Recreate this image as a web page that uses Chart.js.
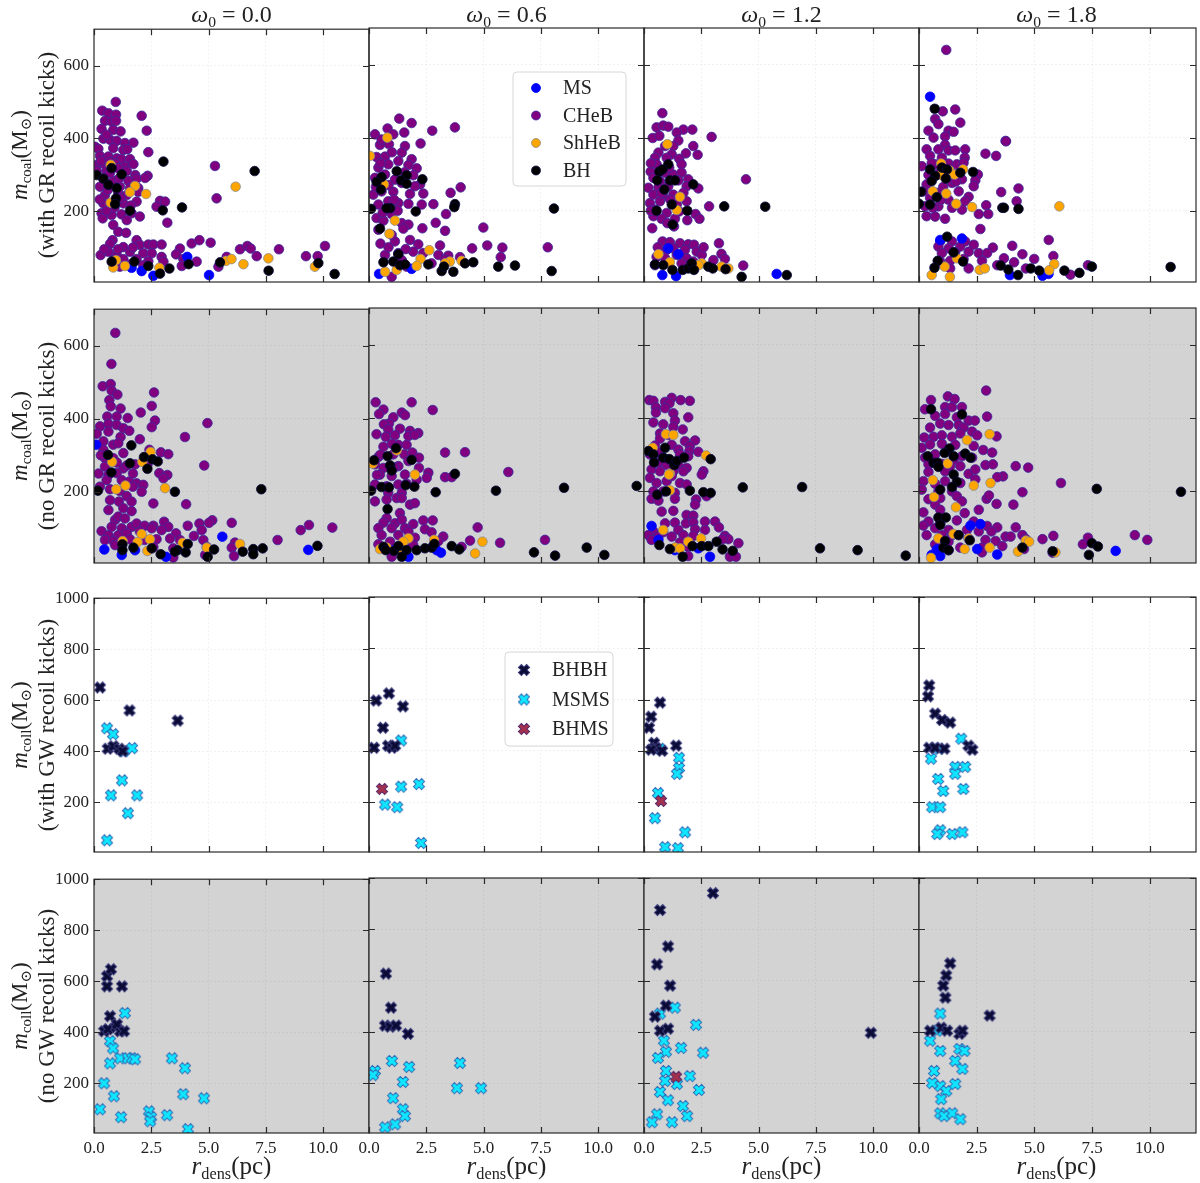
<!DOCTYPE html>
<html>
<head>
<meta charset="utf-8">
<script src="https://cdn.jsdelivr.net/npm/chart.js@4.4.1/dist/chart.umd.min.js"></script>
<style>
  html, body { margin: 0; padding: 0; background: #fff; }
  #page { position: relative; width: 1200px; height: 1183px; overflow: hidden; font-family: 'Liberation Serif', 'DejaVu Serif', serif; color: #222; }
  .panel { position: absolute; }
  .coltitle { position: absolute; top: 0; width: 275px; text-align: center; font-size: 24px; line-height: 28px; }
  .xlabel { position: absolute; top: 1151px; width: 275px; text-align: center; font-size: 25px; line-height: 30px; }
  .ylabel { position: absolute; text-align: center; font-size: 23px; line-height: 27px; white-space: nowrap; transform: rotate(-90deg); transform-origin: center center; }
  sub { font-size: 0.65em; vertical-align: -0.3em; line-height: 0; }
</style>
</head>
<body>
<div id="page"></div>
<script>
// ─── Tick labels / categories ───
const omegaLabels = ['0.0', '0.6', '1.2', '1.8'];
const coalTypes = ['MS', 'CHeB', 'ShHeB', 'BH'];
const collTypes = ['BHBH', 'MSMS', 'BHMS'];
const xTicks = [0, 2.5, 5, 7.5, 10];
const yTicksCoal = [200, 400, 600];
const yTicksColl = [200, 400, 600, 800, 1000];

// ─── Coalescences, with GR recoil kicks: [r_dens, m_coal] ───
const cg0_MS = [[1.64,44],[2.08,35],[2.59,22],[4.07,74],[5.02,24]];
const cg0_CHeB = [[0.95,500],[0.36,476],[0.63,469],[0.96,465],[0.48,448],[0.77,446],[0.96,448],[2.08,462],[0.33,426],[0.84,423],[1.16,419],[2.3,421],[0.41,399],[0.7,396],[0.99,393],[1.35,387],[1.72,388],[0.04,377],[0.19,371],[0.84,373],[1.28,368],[1.45,370],[2.37,362],[0.26,352],[0.63,350],[0.99,345],[1.2,343],[1.57,343],[0.12,327],[0.48,327],[0.92,331],[1.35,322],[1.72,329],[0.12,310],[0.55,310],[1.43,310],[1.8,299],[2.34,297],[0.41,289],[0.84,283],[1.5,283],[1.86,289],[2.23,291],[0.26,267],[1.13,267],[1.57,263],[1.93,263],[0.48,244],[1.06,249],[1.43,244],[1.93,253],[5.28,324],[0.41,221],[1.28,221],[1.86,226],[2.88,228],[3.1,226],[5.35,235],[0.33,194],[0.77,189],[1.2,191],[1.64,194],[2.0,185],[2.73,212],[3.2,168],[0.38,180],[0.84,162],[1.43,175],[1.06,143],[1.4,140],[0.55,410],[0.3,338],[0.7,305],[1.05,318],[0.6,258],[0.25,232],[0.9,210],[1.15,236],[0.55,200],[1.6,215],[0.68,335],[1.1,290],[0.81,120],[0.7,110],[1.28,101],[1.86,120],[2.0,107],[2.37,108],[2.59,108],[2.95,108],[3.75,97],[4.26,111],[4.6,120],[5.09,113],[6.37,95],[6.69,104],[6.84,97],[8.07,95],[10.08,104],[0.29,79],[0.63,88],[0.99,79],[1.57,88],[2.15,84],[2.52,84],[2.95,74],[3.58,81],[3.9,68],[5.79,74],[7.1,76],[9.25,76],[9.76,76],[0.84,65],[1.28,68],[1.86,68],[2.37,62],[3.03,61],[3.83,49],[4.48,61],[5.43,47],[1.13,47],[2.15,51],[1.57,53],[1.05,95],[1.7,100],[0.45,95]];
const cg0_ShHeB = [[0.73,327],[1.79,269],[1.57,252],[2.27,247],[0.73,223],[6.18,267],[0.84,45],[1.35,49],[0.96,65],[2.85,44],[5.76,63],[6.0,68],[6.52,54],[7.61,70],[9.64,47]];
const cg0_BH = [[0.12,299],[0.41,289],[0.77,318],[0.63,272],[1.21,301],[0.99,263],[0.96,235],[0.92,219],[1.57,201],[3.03,336],[3.0,202],[3.84,210],[7.01,310],[0.77,61],[1.76,61],[2.37,49],[2.88,28],[3.29,42],[4.13,54],[5.5,59],[7.62,36],[9.79,57],[10.5,27]];

const cg1_MS = [[0.44,27],[1.86,41]];
const cg1_CHeB = [[1.32,452],[1.86,440],[0.81,425],[1.54,414],[2.76,419],[3.75,428],[0.26,409],[0.48,380],[1.06,409],[1.57,377],[2.25,384],[0.87,382],[0.33,347],[0.7,348],[1.43,359],[1.86,341],[0.41,318],[0.84,327],[1.28,336],[1.72,325],[2.08,316],[0.26,290],[0.7,299],[1.13,285],[1.93,297],[2.23,272],[1.43,276],[0.19,244],[0.55,253],[1.06,252],[1.79,246],[2.37,247],[3.56,249],[4.0,264],[2.0,267],[0.41,217],[0.84,226],[1.28,221],[1.72,219],[2.3,217],[2.81,218],[3.36,191],[0.33,180],[0.63,173],[0.99,191],[1.43,166],[1.72,162],[2.91,167],[2.33,152],[3.32,145],[0.41,148],[1.5,151],[1.13,116],[4.99,154],[0.99,134],[1.79,120],[2.15,108],[3.1,105],[5.16,105],[5.82,99],[7.8,100],[4.5,97],[0.7,79],[1.28,84],[1.93,88],[2.37,84],[3.03,79],[3.46,77],[3.97,73],[5.75,73],[0.99,19],[1.43,65],[1.64,47],[2.73,56],[3.32,65],[0.55,395],[1.0,360],[0.5,330],[1.55,305],[0.85,270],[0.3,265],[1.1,230],[0.6,195],[1.25,200],[0.85,100],[0.5,110],[1.6,95]];
const cg1_ShHeB = [[0.8,400],[0.04,350],[0.65,272],[1.13,173],[0.89,137],[2.63,92],[2.25,68],[2.08,49],[3.53,61],[4.04,63],[0.7,33],[1.21,38],[3.32,56]];
const cg1_BH = [[1.21,308],[1.64,297],[0.55,292],[0.33,279],[1.4,283],[1.64,274],[2.33,286],[0.52,258],[0.92,207],[0.77,207],[0.09,205],[2.04,198],[3.75,218],[3.72,210],[8.07,206],[0.48,151],[0.63,59],[1.06,61],[1.28,81],[1.35,51],[1.57,53],[2.59,53],[3.17,35],[3.27,47],[3.68,33],[4.19,56],[4.55,59],[5.64,47],[6.37,50],[7.97,35]];

const cg2_MS = [[0.8,24],[1.4,21],[1.06,97],[1.5,81],[5.79,27]];
const cg2_CHeB = [[0.8,467],[0.55,428],[0.84,433],[1.06,430],[1.72,422],[2.11,422],[0.38,399],[0.67,405],[1.43,414],[2.95,402],[1.5,392],[0.92,377],[1.28,377],[2.15,377],[0.63,359],[1.21,354],[1.83,357],[2.34,353],[0.48,345],[0.99,345],[1.54,342],[0.55,327],[1.64,327],[0.29,307],[0.92,304],[1.28,299],[1.64,304],[0.41,290],[0.7,281],[1.5,283],[1.93,286],[4.45,286],[0.19,263],[0.63,264],[1.06,267],[1.86,267],[2.37,261],[0.41,244],[0.84,240],[1.28,244],[1.72,249],[0.26,221],[0.7,226],[1.43,217],[1.86,226],[0.48,203],[0.99,194],[1.54,198],[2.84,212],[0.41,185],[0.77,178],[1.35,178],[2.25,191],[2.42,178],[1.02,166],[1.31,157],[0.36,152],[1.89,174],[0.3,330],[1.1,318],[0.75,248],[1.15,230],[0.3,200],[0.81,116],[1.13,114],[1.57,111],[1.93,108],[2.18,107],[0.99,93],[1.28,97],[1.79,93],[2.3,88],[3.27,111],[3.38,82],[0.55,74],[0.92,70],[1.43,79],[1.86,70],[2.52,79],[3.53,68],[0.48,51],[1.64,56],[2.15,61],[4.33,50],[3.03,65],[0.6,100],[2.6,100]];
const cg2_ShHeB = [[1.02,382],[1.57,238],[1.43,202],[0.63,81],[1.13,59],[2.52,56],[2.37,51],[3.38,47],[3.68,42]];
const cg2_BH = [[1.06,327],[0.67,307],[0.81,313],[0.58,283],[1.13,283],[1.35,283],[0.89,258],[2.15,272],[1.21,217],[0.55,200],[1.89,200],[3.5,212],[5.29,211],[1.25,162],[0.48,53],[0.84,51],[1.24,38],[1.69,38],[1.93,42],[2.08,56],[2.18,38],[2.81,47],[3.0,42],[3.56,40],[4.26,19],[6.23,24]];

const cg3_MS = [[0.48,512],[0.92,120],[1.86,124],[3.94,24],[5.35,22],[5.61,27]];
const cg3_CHeB = [[1.18,640],[1.57,477],[1.03,472],[0.7,451],[0.84,437],[1.79,441],[0.41,419],[1.28,419],[1.5,416],[1.13,403],[0.63,400],[3.75,391],[3.77,390],[1.13,380],[0.33,368],[0.84,368],[1.28,365],[1.57,365],[2.0,368],[2.88,356],[3.34,350],[0.48,350],[0.99,345],[1.98,345],[0.12,322],[0.7,327],[1.28,329],[1.64,327],[1.93,331],[0.41,298],[0.84,301],[1.45,304],[2.55,299],[1.86,286],[2.44,283],[0.33,272],[1.43,276],[2.37,267],[4.31,261],[0.19,253],[0.77,249],[1.72,253],[2.15,238],[3.56,251],[0.48,235],[1.28,230],[2.0,226],[4.23,226],[0.26,212],[0.84,212],[1.43,208],[2.91,215],[1.86,203],[0.33,185],[0.7,184],[1.13,178],[2.59,191],[3.0,191],[2.66,150],[0.55,330],[1.05,265],[0.95,230],[0.6,208],[1.6,280],[0.92,116],[1.43,116],[2.0,116],[0.84,102],[1.28,97],[1.79,102],[2.37,107],[3.2,99],[4.04,104],[5.62,120],[0.99,84],[1.57,87],[2.15,88],[2.59,84],[2.95,84],[3.68,70],[4.48,81],[4.99,68],[5.82,76],[0.92,61],[1.35,63],[1.93,68],[2.73,63],[3.39,51],[4.12,59],[1.35,42],[2.15,42],[4.63,42],[6.56,25],[7.32,51]];
const cg3_ShHeB = [[0.96,329],[1.32,310],[1.54,299],[0.96,298],[1.91,313],[0.6,253],[1.18,247],[1.61,219],[2.3,210],[6.08,212],[1.64,70],[1.11,47],[2.63,38],[2.85,42],[5.86,54],[5.64,37],[0.55,24],[1.34,19]];
const cg3_BH = [[0.68,479],[0.48,313],[0.99,318],[1.21,313],[1.79,304],[0.7,295],[1.16,288],[2.34,306],[0.55,281],[0.09,252],[0.77,237],[0.48,217],[3.61,208],[3.68,208],[4.31,205],[0.0,219],[1.22,129],[1.5,86],[0.81,63],[1.91,61],[0.67,44],[3.54,50],[3.87,39],[4.29,24],[4.84,42],[5.21,36],[6.3,36],[6.95,30],[7.49,47],[10.9,46]];

// ─── Coalescences, no GR recoil kicks ───
const cn0_MS = [[0.09,329],[0.45,42],[1.21,27],[1.79,40],[3.14,22],[5.6,77],[9.35,41]];
const cn0_CHeB = [[0.93,635],[0.76,550],[0.38,489],[0.73,495],[0.77,477],[1.02,466],[2.62,472],[0.67,451],[0.73,434],[1.16,428],[2.52,435],[0.58,406],[0.99,406],[1.47,402],[2.04,417],[2.66,395],[0.26,379],[0.63,386],[0.99,383],[1.28,374],[1.54,367],[2.52,377],[4.95,388],[0.12,359],[0.63,365],[1.16,350],[2.0,344],[3.97,350],[0.41,338],[0.84,329],[1.06,333],[0.41,315],[1.28,306],[2.42,315],[2.92,308],[3.24,303],[0.48,292],[0.84,292],[1.79,275],[0.48,269],[1.28,264],[1.43,272],[2.33,274],[4.81,272],[0.63,246],[0.99,251],[2.85,251],[3.2,246],[0.55,232],[1.21,232],[1.54,228],[1.86,223],[3.03,237],[2.15,219],[0.26,214],[0.7,207],[1.13,202],[1.69,214],[2.08,200],[1.43,188],[0.7,177],[1.09,173],[1.64,173],[2.59,168],[4.02,166],[0.63,150],[1.28,155],[1.64,147],[0.92,123],[1.06,132],[1.35,127],[0.3,300],[1.0,280],[0.2,250],[1.7,250],[0.77,104],[1.21,100],[1.64,104],[1.86,113],[2.21,107],[2.59,107],[3.06,118],[3.24,104],[4.09,107],[4.6,113],[5.16,122],[5.02,115],[6.01,115],[9.02,95],[9.38,109],[10.4,102],[0.33,92],[0.63,81],[1.06,81],[1.43,86],[2.0,91],[2.52,100],[2.95,95],[3.58,86],[4.36,79],[4.7,95],[0.48,68],[0.84,65],[1.57,70],[2.21,68],[2.73,70],[3.32,72],[3.75,68],[4.77,68],[6.15,61],[8.01,68],[0.92,54],[2.59,49],[3.46,45],[4.92,49],[6.01,47],[6.11,24],[4.85,27],[3.46,20]];
const cn0_ShHeB = [[0.79,282],[2.11,282],[2.47,309],[1.37,217],[0.97,207],[3.1,210],[2.08,84],[1.9,62],[2.44,70],[1.25,65],[2.33,38],[3.87,60],[4.92,47],[6.37,57]];
const cn0_BH = [[1.63,327],[0.61,301],[2.18,295],[2.55,289],[1.57,278],[2.78,283],[2.33,263],[0.76,253],[0.17,203],[3.53,200],[7.3,207],[1.24,56],[1.24,40],[1.72,47],[2.52,45],[2.91,29],[3.64,40],[4.0,34],[4.09,57],[4.96,22],[5.24,42],[6.49,36],[6.95,43],[6.95,29],[7.36,45],[9.75,52],[3.53,36]];

const cn1_MS = [[1.72,22],[3.14,33],[2.95,40],[1.06,40]];
const cn1_CHeB = [[0.29,443],[1.86,443],[0.63,423],[0.44,411],[1.43,415],[1.57,408],[2.78,422],[1.06,402],[0.87,385],[0.65,383],[0.84,369],[1.35,371],[1.79,365],[0.33,356],[0.73,349],[1.13,353],[1.72,351],[2.15,359],[2.0,354],[0.63,322],[1.28,327],[1.64,327],[0.41,294],[1.06,301],[1.54,301],[1.89,306],[2.18,292],[3.32,306],[4.19,307],[0.26,274],[0.63,264],[1.28,269],[1.72,283],[2.18,264],[6.08,253],[0.48,246],[0.99,242],[1.57,246],[2.59,251],[2.52,237],[3.32,239],[3.61,239],[2.08,232],[0.26,219],[0.77,214],[1.28,219],[1.64,221],[0.84,196],[1.43,196],[0.26,173],[0.77,178],[1.21,182],[1.43,182],[1.79,164],[2.0,168],[1.35,141],[0.77,127],[0.63,115],[0.5,300],[1.0,330],[0.35,245],[1.1,265],[1.13,113],[1.43,123],[1.93,111],[2.37,121],[2.78,121],[0.41,100],[0.99,100],[1.57,100],[2.44,97],[2.73,89],[4.74,102],[0.55,81],[1.28,81],[1.72,91],[2.0,74],[3.24,77],[4.41,66],[5.72,60],[7.68,68],[0.41,56],[0.92,63],[1.57,49],[1.93,54],[3.03,65],[4.04,49],[0.99,22]];
const cn1_ShHeB = [[1.21,312],[0.16,276],[2.0,246],[1.72,72],[1.5,63],[2.84,68],[4.95,63],[4.63,31],[0.48,43],[1.4,40],[0.77,47]];
const cn1_BH = [[1.18,318],[0.81,296],[0.22,285],[1.86,286],[0.92,271],[0.99,257],[3.75,248],[1.98,213],[1.6,217],[0.55,212],[0.87,211],[0.09,202],[2.91,198],[5.54,202],[8.51,210],[11.68,215],[0.81,152],[0.63,49],[0.73,40],[1.09,38],[1.28,51],[1.64,40],[2.08,40],[2.44,45],[2.73,47],[2.85,57],[1.43,22],[3.61,51],[3.94,42],[7.2,34],[8.12,25],[9.5,47],[10.27,27]];

const cn2_MS = [[0.33,106],[0.63,68],[1.35,40],[2.37,45],[2.88,22]];
const cn2_CHeB = [[0.23,449],[0.41,447],[0.92,444],[1.21,455],[1.11,440],[1.6,449],[2.0,447],[0.52,429],[0.92,427],[0.52,415],[1.28,413],[1.93,402],[0.41,388],[0.84,383],[1.35,393],[1.28,376],[1.69,369],[0.7,358],[1.06,354],[2.23,339],[0.7,344],[1.79,337],[0.48,325],[1.21,327],[1.5,314],[2.0,323],[1.98,310],[2.37,308],[0.26,301],[0.63,306],[0.84,292],[1.57,301],[1.93,296],[0.63,278],[0.99,272],[1.5,272],[1.86,264],[0.33,260],[0.7,255],[1.28,255],[1.72,255],[2.59,255],[2.52,246],[0.26,237],[0.55,223],[0.99,228],[1.21,242],[1.57,223],[1.86,219],[0.41,200],[0.84,200],[1.35,196],[1.35,180],[2.27,178],[0.33,180],[0.63,175],[2.23,164],[2.73,187],[0.77,145],[1.28,147],[1.86,136],[2.15,134],[0.92,113],[1.35,115],[1.83,113],[2.15,116],[2.66,118],[3.1,118],[3.27,102],[0.41,91],[0.84,89],[1.5,95],[2.23,97],[2.66,95],[0.19,81],[0.63,77],[1.21,77],[1.72,81],[2.15,79],[3.53,79],[0.33,68],[1.57,61],[1.93,49],[3.68,70],[3.43,70],[4.12,59],[1.93,24],[3.75,22],[4.01,22]];
const cn2_ShHeB = [[0.96,356],[1.28,354],[0.38,319],[1.13,249],[1.09,246],[2.71,298],[1.13,203],[0.84,95],[1.93,63],[2.49,72],[1.35,47],[1.57,45]];
const cn2_BH = [[0.92,319],[0.19,310],[0.41,301],[0.84,292],[1.11,288],[0.44,279],[1.32,272],[1.43,283],[1.75,292],[2.91,288],[0.58,191],[0.96,200],[2.0,202],[2.59,198],[2.91,196],[4.31,211],[6.9,212],[0.67,54],[1.13,43],[1.69,22],[2.12,51],[2.52,51],[2.81,51],[3.17,63],[3.43,42],[3.87,38],[7.68,45],[9.32,40],[11.42,25]];

const cn3_MS = [[0.55,27],[0.92,24],[0.77,42],[2.15,72],[2.66,111],[2.52,43],[3.39,28],[8.52,38],[2.23,107]];
const cn3_CHeB = [[2.91,475],[1.25,459],[1.54,452],[0.52,449],[0.26,424],[1.13,430],[1.43,430],[1.86,430],[2.95,404],[0.7,406],[1.13,411],[1.64,402],[2.15,393],[2.42,393],[0.48,374],[0.92,385],[1.28,381],[1.72,381],[1.93,374],[3.36,350],[0.23,347],[0.63,349],[0.99,353],[1.43,349],[1.79,358],[2.3,363],[2.52,353],[0.12,319],[0.48,328],[0.99,330],[1.57,327],[2.37,324],[2.78,313],[3.17,306],[0.26,292],[0.7,301],[1.86,296],[2.3,292],[1.5,285],[0.41,274],[0.99,275],[1.35,269],[1.79,269],[2.88,272],[3.2,274],[4.19,269],[4.73,265],[0.41,253],[1.13,255],[2.15,248],[2.44,260],[3.64,241],[3.39,239],[6.15,223],[0.19,228],[0.7,221],[1.13,228],[1.79,223],[2.44,233],[0.12,205],[0.84,200],[1.43,200],[1.64,187],[0.41,179],[0.92,182],[2.93,180],[3.03,189],[4.48,198],[0.7,164],[1.86,173],[3.36,166],[4.09,164],[0.92,150],[1.98,141],[0.19,143],[2.59,150],[0.41,118],[0.92,113],[1.64,121],[2.37,118],[2.95,106],[3.39,102],[4.19,102],[0.19,107],[0.7,100],[1.28,95],[2.08,95],[2.59,91],[3.14,91],[3.75,77],[4.48,81],[5.35,70],[5.82,79],[7.32,74],[9.35,81],[9.89,68],[0.33,81],[0.99,81],[1.43,81],[2.88,68],[3.32,65],[3.97,77],[4.63,70],[7.1,56],[0.7,56],[1.28,63],[1.79,47],[2.73,47],[3.61,51],[2.73,34],[5.79,33],[4.55,43],[1.28,40]];
const cn3_ShHeB = [[2.08,340],[3.06,356],[1.24,276],[0.6,231],[2.37,216],[3.1,223],[0.65,185],[1.6,157],[1.5,84],[0.84,72],[2.15,72],[1.98,43],[3.06,47],[4.29,36],[4.63,66],[4.77,63],[5.91,34],[0.52,19]];
const cn3_BH = [[0.52,424],[1.86,410],[1.32,317],[0.38,296],[1.11,305],[1.5,296],[2.0,303],[2.23,292],[0.63,278],[0.81,278],[0.84,267],[1.5,246],[1.64,226],[1.43,212],[0.92,205],[7.7,207],[11.35,199],[0.84,129],[1.16,129],[0.92,109],[1.13,65],[1.06,47],[1.28,40],[1.72,81],[2.2,67],[4.48,47],[5.79,37],[7.49,59],[7.75,50],[7.36,27]];

// ─── Collisions, with GW recoil kicks: [r_dens, m_coll] ───
const xg0_BHBH = [[0.26,650],[0.6,410],[0.85,420],[1.1,410],[1.25,400],[1.55,560],[3.65,520]];
const xg0_MSMS = [[0.57,490],[0.83,467],[0.74,227],[0.57,51],[1.31,400],[1.66,412],[1.22,286],[1.88,227],[1.48,157]];
const xg0_BHMS = [];
const xg1_BHBH = [[0.31,596],[0.87,624],[0.61,490],[0.22,412],[0.83,420],[1.0,412],[1.14,420],[1.48,573]];
const xg1_MSMS = [[1.4,440],[1.4,260],[1.23,180],[0.7,190],[2.18,270],[2.27,40]];
const xg1_BHMS = [[0.57,251]];
const xg2_BHBH = [[0.31,533],[0.22,490],[0.7,588],[0.44,431],[0.52,412],[0.31,404],[1.4,420],[0.79,400]];
const xg2_MSMS = [[0.7,408],[1.53,373],[1.53,333],[1.44,310],[0.61,235],[0.48,137],[1.79,82],[0.92,24],[1.48,20]];
const xg2_BHMS = [[0.74,204]];
const xg3_BHBH = [[0.44,655],[0.39,612],[0.7,545],[1.0,520],[1.35,510],[0.44,412],[0.7,412],[1.1,408],[2.14,420],[2.31,404]];
const xg3_MSMS = [[0.52,369],[0.87,408],[0.83,290],[1.05,243],[0.57,180],[0.92,180],[0.92,90],[1.57,337],[1.57,310],[2.0,337],[1.92,251],[1.88,82],[1.44,75],[0.79,75],[1.83,447]];
const xg3_BHMS = [];

// ─── Collisions, no GW recoil kicks ───
const xn0_BHBH = [[0.57,620],[0.74,647],[0.57,580],[1.22,580],[0.44,404],[0.61,412],[0.96,420],[1.14,404],[0.7,463],[1.0,431],[1.31,404]];
const xn0_MSMS = [[0.7,365],[0.83,337],[1.35,475],[1.14,298],[1.48,298],[1.66,298],[1.79,294],[0.7,278],[0.44,200],[0.87,149],[0.26,98],[1.18,67],[2.4,90],[2.49,67],[2.45,51],[3.19,75],[3.4,298],[3.97,259],[3.89,157],[4.8,141],[4.1,20]];
const xn0_BHMS = [];
const xn1_BHBH = [[0.74,627],[0.96,494],[0.7,424],[0.92,420],[1.18,424],[1.7,392]];
const xn1_MSMS = [[0.26,247],[0.17,231],[1.0,286],[1.75,263],[1.48,204],[1.05,141],[1.48,98],[1.57,71],[1.14,39],[0.7,27],[3.84,180],[3.97,278],[4.89,180]];
const xn1_BHMS = [];
const xn2_BHBH = [[3.01,941],[0.7,875],[1.05,733],[0.57,663],[1.14,580],[0.96,502],[0.48,459],[0.7,404],[1.05,412],[9.9,396]];
const xn2_MSMS = [[0.7,471],[1.35,494],[0.87,365],[0.96,322],[2.27,427],[2.58,318],[1.62,337],[0.61,298],[0.96,247],[0.92,208],[0.7,165],[1.44,196],[2.0,227],[1.05,133],[1.7,110],[1.88,71],[0.57,78],[1.22,47],[2.4,173],[0.35,47]];
const xn2_BHMS = [[1.4,224]];
const xn3_BHBH = [[1.35,667],[1.18,620],[1.05,580],[1.14,533],[3.06,463],[0.48,404],[0.96,416],[1.22,404],[1.75,392],[1.88,404]];
const xn3_MSMS = [[0.48,365],[0.92,325],[0.92,471],[0.79,404],[1.75,333],[1.57,286],[1.88,255],[0.65,247],[0.92,188],[0.57,200],[1.18,169],[1.57,196],[0.92,82],[1.09,71],[1.44,82],[1.79,59],[0.96,137],[1.97,325]];
const xn3_BHMS = [];

const coalGR = [[cg0_MS, cg0_CHeB, cg0_ShHeB, cg0_BH], [cg1_MS, cg1_CHeB, cg1_ShHeB, cg1_BH], [cg2_MS, cg2_CHeB, cg2_ShHeB, cg2_BH], [cg3_MS, cg3_CHeB, cg3_ShHeB, cg3_BH]];
const coalNoGR = [[cn0_MS, cn0_CHeB, cn0_ShHeB, cn0_BH], [cn1_MS, cn1_CHeB, cn1_ShHeB, cn1_BH], [cn2_MS, cn2_CHeB, cn2_ShHeB, cn2_BH], [cn3_MS, cn3_CHeB, cn3_ShHeB, cn3_BH]];
const collGW = [[xg0_BHBH, xg0_MSMS, xg0_BHMS], [xg1_BHBH, xg1_MSMS, xg1_BHMS], [xg2_BHBH, xg2_MSMS, xg2_BHMS], [xg3_BHBH, xg3_MSMS, xg3_BHMS]];
const collNoGW = [[xn0_BHBH, xn0_MSMS, xn0_BHMS], [xn1_BHBH, xn1_MSMS, xn1_BHMS], [xn2_BHBH, xn2_MSMS, xn2_BHMS], [xn3_BHBH, xn3_MSMS, xn3_BHMS]];

// ─── Layout ───
const COL_X = [94, 369, 644, 919];
const COL_W = [275, 275, 275, 277];
const ROW_Y = [28, 308, 597, 878];
const ROW_H = [254, 255, 255, 255];
const PAD = { l: 62, r: 12, t: 14, b: 34 };
const FONT = "'Liberation Serif', 'DejaVu Serif', serif";

// ─── Marker styles ───
const dotStyle = {
  MS:    { fill: '#0000ff', edge: '#0000ff', order: 2 },
  CHeB:  { fill: '#800080', edge: '#3a2c9a', order: 4 },
  ShHeB: { fill: '#ffa500', edge: '#8a8a8a', order: 1 },
  BH:    { fill: '#000000', edge: '#0a0a40', order: 0 },
};

function makeCross(fill, edge, size) {
  const c = document.createElement('canvas');
  c.width = c.height = size;
  const g = c.getContext('2d');
  const h = size / 2, L = h - 1.2, t = L * 0.36;
  g.translate(h, h);
  g.rotate(Math.PI / 4);
  g.beginPath();
  g.moveTo(-t, -L); g.lineTo(t, -L); g.lineTo(t, -t); g.lineTo(L, -t); g.lineTo(L, t); g.lineTo(t, t);
  g.lineTo(t, L); g.lineTo(-t, L); g.lineTo(-t, t); g.lineTo(-L, t); g.lineTo(-L, -t); g.lineTo(-t, -t);
  g.closePath();
  g.fillStyle = fill; g.fill();
  g.lineWidth = 1; g.strokeStyle = edge; g.stroke();
  return c;
}

const crossStyle = {
  BHBH: { img: makeCross('#0b0b36', '#3a3a7a', 14), order: 1 },
  MSMS: { img: makeCross('#10e6ff', '#2f6fb8', 14), order: 2 },
  BHMS: { img: makeCross('#a3304e', '#5a2a6a', 14), order: 0 },
};

// ─── Plugins ───
const framePlugin = {
  id: 'frame',
  beforeDraw(chart, args, opts) {
    if (!opts.bg) return;
    const a = chart.chartArea, ctx = chart.ctx;
    ctx.save();
    ctx.fillStyle = opts.bg;
    ctx.fillRect(a.left, a.top, a.width, a.height);
    ctx.restore();
  },
  afterDraw(chart) {
    const { ctx, chartArea: a, scales: { x, y } } = chart;
    ctx.save();
    ctx.strokeStyle = '#2a2a2a';
    ctx.lineWidth = 1.2;
    ctx.beginPath();
    x.ticks.forEach(t => {
      const px = Math.round(x.getPixelForValue(t.value)) + 0.5;
      ctx.moveTo(px, a.bottom); ctx.lineTo(px, a.bottom - 6);
      ctx.moveTo(px, a.top); ctx.lineTo(px, a.top + 6);
    });
    y.ticks.forEach(t => {
      const py = Math.round(y.getPixelForValue(t.value)) + 0.5;
      ctx.moveTo(a.left, py); ctx.lineTo(a.left + 6, py);
      ctx.moveTo(a.right, py); ctx.lineTo(a.right - 6, py);
    });
    ctx.stroke();
    ctx.strokeRect(a.left, a.top, a.width, a.height);
    ctx.restore();
  },
};

const legendPlugin = {
  id: 'insetLegend',
  afterDraw(chart, args, opts) {
    if (!opts.items) return;
    const { ctx, chartArea: a } = chart;
    const x0 = a.left + opts.x, y0 = a.top + opts.y;
    ctx.save();
    ctx.beginPath();
    ctx.roundRect(x0, y0, opts.w, opts.h, 4);
    ctx.fillStyle = 'rgba(255,255,255,0.85)';
    ctx.fill();
    ctx.strokeStyle = '#d6d6d6';
    ctx.lineWidth = 1;
    ctx.stroke();
    ctx.font = '20px ' + FONT;
    ctx.textBaseline = 'middle';
    ctx.fillStyle = '#222';
    opts.items.forEach((it, i) => {
      const cy = y0 + opts.first + i * opts.rowH;
      const mx = x0 + opts.mx;
      if (it.img) {
        ctx.drawImage(it.img, mx - it.img.width / 2, cy - it.img.height / 2);
      } else {
        ctx.beginPath();
        ctx.arc(mx, cy, 4.5, 0, Math.PI * 2);
        ctx.fillStyle = it.fill; ctx.fill();
        ctx.lineWidth = 0.8; ctx.strokeStyle = it.edge; ctx.stroke();
        ctx.fillStyle = '#222';
      }
      ctx.fillText(it.label, x0 + opts.tx, cy + 1);
    });
    ctx.restore();
  },
};

// ─── Build panels ───
const page = document.getElementById('page');

function makePanel(row, col, datasets, yMax, yTicks, legend) {
  const w = COL_W[col] + PAD.l + PAD.r;
  const h = ROW_H[row] + PAD.t + PAD.b;
  const div = document.createElement('div');
  div.className = 'panel';
  div.style.left = (COL_X[col] - PAD.l) + 'px';
  div.style.top = (ROW_Y[row] - PAD.t) + 'px';
  div.style.width = w + 'px';
  div.style.height = h + 'px';
  const canvas = document.createElement('canvas');
  canvas.width = w; canvas.height = h;
  div.appendChild(canvas);
  page.appendChild(div);

  new Chart(canvas, {
    type: 'scatter',
    data: { datasets },
    plugins: [framePlugin, legendPlugin],
    options: {
      responsive: false,
      animation: false,
      devicePixelRatio: 1,
      events: [],
      layout: { padding: { top: PAD.t, right: PAD.r, left: 0, bottom: 0 } },
      plugins: {
        legend: { display: false },
        tooltip: { enabled: false },
        frame: { bg: (row === 1 || row === 3) ? '#d3d3d3' : null },
        insetLegend: legend || {},
      },
      scales: {
        x: {
          type: 'linear', min: 0, max: 12,
          afterBuildTicks: s => { s.ticks = xTicks.map(v => ({ value: v })); },
          afterFit: s => { s.height = PAD.b; },
          ticks: {
            display: row === 3,
            padding: 5,
            color: '#222',
            font: { family: FONT, size: 17 },
            callback: v => Number(v).toFixed(1),
          },
          grid: { color: 'rgba(0,0,0,0.05)', drawTicks: false, lineWidth: 1 },
          border: { display: false, dash: [2, 2] },
        },
        y: {
          type: 'linear', min: 5, max: yMax,
          afterBuildTicks: s => { s.ticks = yTicks.map(v => ({ value: v })); },
          afterFit: s => { s.width = PAD.l; },
          ticks: {
            display: col === 0,
            padding: 5,
            color: '#222',
            font: { family: FONT, size: 17 },
            callback: v => String(v),
          },
          grid: { color: 'rgba(0,0,0,0.05)', drawTicks: false, lineWidth: 1 },
          border: { display: false, dash: [2, 2] },
        },
      },
    },
  });
}

function dotDatasets(groups) {
  return coalTypes.map((name, i) => ({
    label: name,
    data: groups[i].map(p => ({ x: p[0], y: p[1] })),
    pointStyle: 'circle',
    pointRadius: 4.8,
    pointBackgroundColor: dotStyle[name].fill,
    pointBorderColor: dotStyle[name].edge,
    pointBorderWidth: 0.8,
    order: dotStyle[name].order,
  }));
}

function crossDatasets(groups) {
  return collTypes.map((name, i) => ({
    label: name,
    data: groups[i].map(p => ({ x: p[0], y: p[1] })),
    pointStyle: crossStyle[name].img,
    pointRadius: 6,
    order: crossStyle[name].order,
  }));
}

const coalLegend = {
  items: coalTypes.map(n => ({ label: n, fill: dotStyle[n].fill, edge: dotStyle[n].edge })),
  x: 144, y: 44, w: 113, h: 114, first: 16, rowH: 27.5, mx: 23, tx: 50,
};
const collLegend = {
  items: collTypes.map(n => ({ label: n, img: crossStyle[n].img })),
  x: 136, y: 55, w: 108, h: 94, first: 18, rowH: 29.5, mx: 19, tx: 47,
};

for (let c = 0; c < 4; c++) {
  makePanel(0, c, dotDatasets(coalGR[c]), 700, yTicksCoal, c === 1 ? coalLegend : null);
  makePanel(1, c, dotDatasets(coalNoGR[c]), 700, yTicksCoal, null);
  makePanel(2, c, crossDatasets(collGW[c]), 1000, yTicksColl, c === 1 ? collLegend : null);
  makePanel(3, c, crossDatasets(collNoGW[c]), 1000, yTicksColl, null);

  const t = document.createElement('div');
  t.className = 'coltitle';
  t.style.left = COL_X[c] + 'px';
  t.innerHTML = '<i>ω</i><sub>0</sub> = ' + omegaLabels[c];
  page.appendChild(t);

  const xl = document.createElement('div');
  xl.className = 'xlabel';
  xl.style.left = COL_X[c] + 'px';
  xl.innerHTML = '<i>r</i><sub>dens</sub>(pc)';
  page.appendChild(xl);
}

const yTitles = [
  ['<i>m</i><sub>coal</sub>(M<sub>⊙</sub>)', '(with GR recoil kicks)'],
  ['<i>m</i><sub>coal</sub>(M<sub>⊙</sub>)', '(no GR recoil kicks)'],
  ['<i>m</i><sub>coll</sub>(M<sub>⊙</sub>)', '(with GW recoil kicks)'],
  ['<i>m</i><sub>coll</sub>(M<sub>⊙</sub>)', '(no GW recoil kicks)'],
];
yTitles.forEach((lines, r) => {
  const d = document.createElement('div');
  d.className = 'ylabel';
  const w = 280, hgt = 54;
  d.style.width = w + 'px';
  d.style.height = hgt + 'px';
  d.style.left = (33 - w / 2) + 'px';
  d.style.top = (ROW_Y[r] + ROW_H[r] / 2 - hgt / 2) + 'px';
  d.innerHTML = lines[0] + '<br>' + lines[1];
  page.appendChild(d);
});
</script>
</body>
</html>
